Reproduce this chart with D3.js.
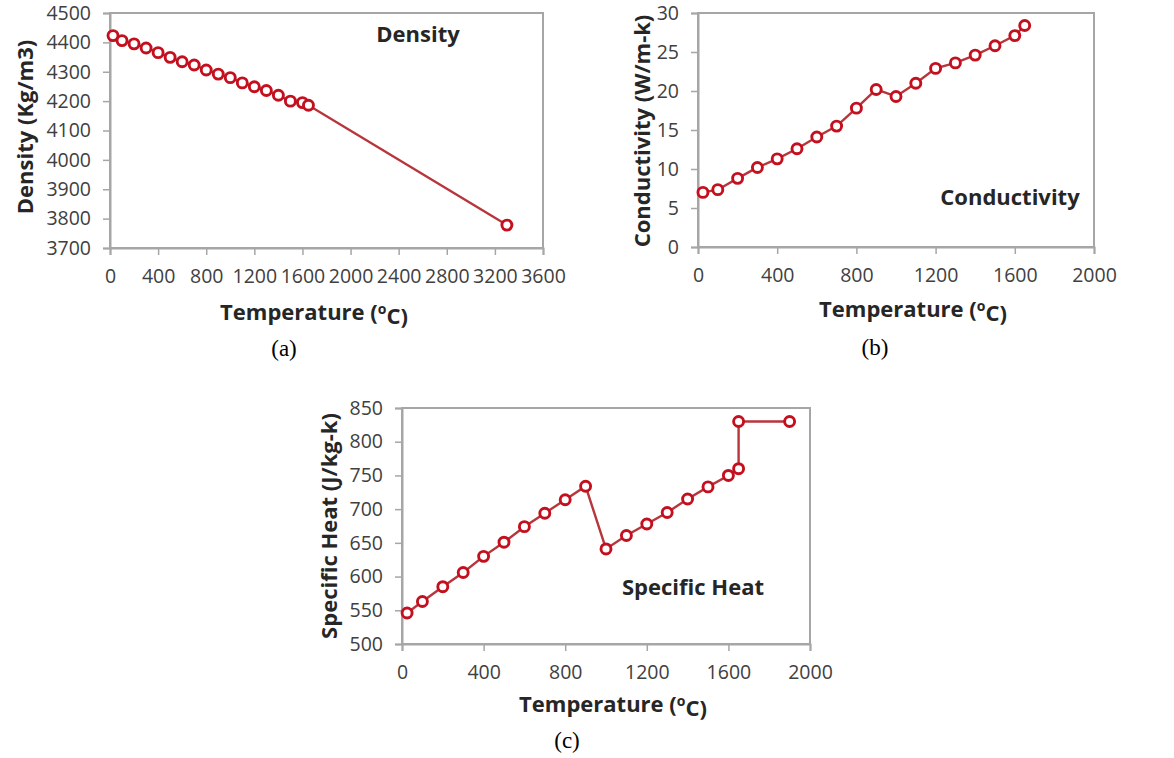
<!DOCTYPE html>
<html>
<head>
<meta charset="utf-8">
<script src="https://cdn.jsdelivr.net/npm/d3@7"></script>
<style>
  body { margin: 0; background: #fff; }
  svg text { font-family: "Open Sans", "Noto Sans", sans-serif; }
</style>
</head>
<body>
<svg id="fig" width="1174" height="758"></svg>
<script>
// --- data ---
var densityTemp = [25, 100, 200, 300, 400, 500, 600, 700, 800, 900, 1000, 1100, 1200, 1300, 1400, 1500, 1600, 1650, 3300];
var densityVal  = [4423, 4406, 4395, 4381, 4365, 4349, 4334, 4323, 4306, 4292, 4280, 4262, 4249, 4236, 4220, 4200, 4195, 4186, 3778];

var condTemp = [25, 100, 200, 300, 400, 500, 600, 700, 800, 900, 1000, 1100, 1200, 1300, 1400, 1500, 1600, 1650];
var condVal  = [7.0, 7.35, 8.8, 10.2, 11.3, 12.6, 14.1, 15.5, 17.8, 20.2, 19.3, 21.0, 22.9, 23.6, 24.6, 25.8, 27.1, 28.4];

var heatTemp = [25, 100, 200, 300, 400, 500, 600, 700, 800, 900, 1000, 1100, 1200, 1300, 1400, 1500, 1600, 1650, 1650, 1900];
var heatVal  = [546, 563, 585, 606, 630, 651, 674, 694, 714, 734, 641, 661, 678, 695, 715, 733, 750, 760, 830, 830];

var densityXTicks = [0, 400, 800, 1200, 1600, 2000, 2400, 2800, 3200, 3600];
var densityYTicks = [3700, 3800, 3900, 4000, 4100, 4200, 4300, 4400, 4500];
var condXTicks = [0, 400, 800, 1200, 1600, 2000];
var condYTicks = [0, 5, 10, 15, 20, 25, 30];
var heatXTicks = [0, 400, 800, 1200, 1600, 2000];
var heatYTicks = [500, 550, 600, 650, 700, 750, 800, 850];

var svg = d3.select("#fig");

var markerColor = "#c4101e",
    lineColor = "#b8353b",
    axisColor = "#a6a6a6",
    tickText = "#404040",
    titleText = "#262626";

// draws one panel
function panel(cfg) {
    var x = d3.scaleLinear().domain(cfg.xDomain).range([cfg.left, cfg.right]);
    var y = d3.scaleLinear().domain(cfg.yDomain).range([cfg.bottom, cfg.top]);

    var g = svg.append("g");

    // plot frame
    g.append("rect")
        .attr("x", cfg.left).attr("y", cfg.top)
        .attr("width", cfg.right - cfg.left).attr("height", cfg.bottom - cfg.top)
        .attr("fill", "none").attr("stroke", axisColor).attr("stroke-width", 2);

    var xAxis = g.append("g")
        .attr("transform", "translate(0," + cfg.bottom + ")")
        .call(d3.axisBottom(x).tickValues(cfg.xTicks).tickSize(7).tickPadding(14).tickFormat(d3.format("d")));
    var yAxis = g.append("g")
        .attr("transform", "translate(" + cfg.left + ",0)")
        .call(d3.axisLeft(y).tickValues(cfg.yTicks).tickSize(7).tickPadding(12).tickFormat(d3.format("d")));

    [xAxis, yAxis].forEach(function(a) {
        a.select(".domain").attr("stroke", axisColor).attr("stroke-width", 2);
        a.selectAll(".tick line").attr("stroke", axisColor).attr("stroke-width", 1.5);
        a.selectAll(".tick text").attr("fill", tickText)
            .style("font-size", cfg.tickSize + "px")
            .style("font-family", "'Open Sans', sans-serif");
    });
    xAxis.selectAll(".tick text").attr("dy", "0.71em");

    var pts = cfg.xs.map(function(d, i) { return [d, cfg.ys[i]]; });

    var line = d3.line().x(function(d) { return x(d[0]); }).y(function(d) { return y(d[1]); });
    g.append("path").datum(pts)
        .attr("d", line)
        .attr("fill", "none")
        .attr("stroke", lineColor)
        .attr("stroke-width", 2.4);

    g.selectAll("circle").data(pts).enter().append("circle")
        .attr("cx", function(d) { return x(d[0]); })
        .attr("cy", function(d) { return y(d[1]); })
        .attr("r", 5)
        .attr("fill", "#fff")
        .attr("stroke", markerColor)
        .attr("stroke-width", 2.9);

    // axis titles
    var xt = g.append("text")
        .attr("x", cfg.xTitleX).attr("y", cfg.xTitleY)
        .attr("text-anchor", "middle")
        .attr("fill", titleText)
        .style("font-size", "22px").style("font-weight", "bold");
    xt.append("tspan").text("Temperature (");
    xt.append("tspan").text("o").attr("dy", "-0.45em").style("font-size", "14px");
    xt.append("tspan").text("C)").attr("dy", "0.45em");

    g.append("text")
        .attr("transform", "translate(" + cfg.yTitleX + "," + cfg.yTitleY + ") rotate(-90)")
        .attr("text-anchor", "middle")
        .attr("fill", titleText)
        .style("font-size", "22px").style("font-weight", "bold")
        .text(cfg.yTitle);

    // in-plot label
    g.append("text")
        .attr("x", cfg.labelX).attr("y", cfg.labelY)
        .attr("text-anchor", "middle")
        .attr("fill", titleText)
        .style("font-size", "22px").style("font-weight", "bold")
        .text(cfg.label);

    // sub-figure letter
    g.append("text")
        .attr("x", cfg.letterX).attr("y", cfg.letterY)
        .attr("text-anchor", "middle")
        .attr("fill", "#000")
        .style("font-family", "'Liberation Serif', 'Times New Roman', serif")
        .style("font-size", "23px")
        .text(cfg.letter);
}

panel({
    left: 110, right: 543, top: 13, bottom: 248,
    xDomain: [0, 3600], yDomain: [3700, 4500],
    xTicks: densityXTicks, yTicks: densityYTicks, tickSize: 19.5,
    xs: densityTemp, ys: densityVal,
    xTitleX: 314, xTitleY: 320,
    yTitle: "Density (Kg/m3)", yTitleX: 33, yTitleY: 127,
    label: "Density", labelX: 418, labelY: 42,
    letter: "(a)", letterX: 284, letterY: 356
});

panel({
    left: 698, right: 1094, top: 13, bottom: 247,
    xDomain: [0, 2000], yDomain: [0, 30],
    xTicks: condXTicks, yTicks: condYTicks, tickSize: 19.5,
    xs: condTemp, ys: condVal,
    xTitleX: 913, xTitleY: 317,
    yTitle: "Conductivity (W/m-k)", yTitleX: 650, yTitleY: 131,
    label: "Conductivity", labelX: 1010, labelY: 205,
    letter: "(b)", letterX: 875, letterY: 355
});

panel({
    left: 402, right: 810, top: 408, bottom: 644,
    xDomain: [0, 2000], yDomain: [500, 850],
    xTicks: heatXTicks, yTicks: heatYTicks, tickSize: 19.5,
    xs: heatTemp, ys: heatVal,
    xTitleX: 613, xTitleY: 712,
    yTitle: "Specific Heat (J/kg-k)", yTitleX: 337, yTitleY: 526,
    label: "Specific Heat", labelX: 693, labelY: 595,
    letter: "(c)", letterX: 567, letterY: 748
});
</script>
</body>
</html>
